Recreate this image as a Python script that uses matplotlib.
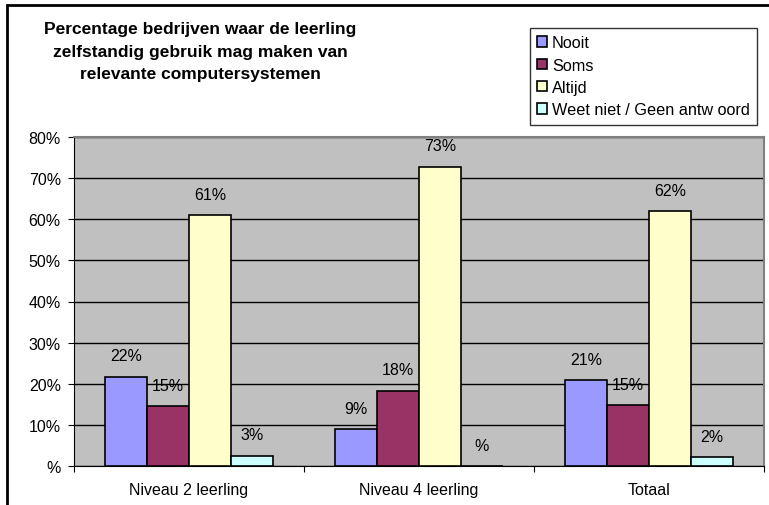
import matplotlib.pyplot as plt
import numpy as np
from matplotlib.patches import Rectangle

plt.rcParams['font.family'] = ['Liberation Sans', 'DejaVu Sans']

categories = ["Niveau 2 leerling", "Niveau 4 leerling", "Totaal"]
series = ["Nooit", "Soms", "Altijd", "Weet niet / Geen antw oord"]
colors = ["#9999FF", "#993366", "#FFFFCC", "#CCFFFF"]
# bar heights (%), per series across categories
nooit = [21.7, 9.0, 20.8]
soms = [14.5, 18.3, 14.8]
altijd = [61.0, 72.8, 62.0]
weet_niet = [2.5, 0.0, 2.2]
# printed labels
nooit_lbl = [22, 9, 21]
soms_lbl = [15, 18, 15]
altijd_lbl = [61, 73, 62]
weet_niet_lbl = [3, None, 2]
yticks = [0, 10, 20, 30, 40, 50, 60, 70, 80]
title = "Percentage bedrijven waar de leerling\nzelfstandig gebruik mag maken van\nrelevante computersystemen"

W, H = 769, 506
fs = 11.5
fig = plt.figure(figsize=(W / 100, H / 100), dpi=100)
fig.patches.append(Rectangle((7 / W, -0.1), 1.2, 1.1 - 6 / H, transform=fig.transFigure,
                             fill=False, ec="black", lw=2, zorder=10))

ax = fig.add_axes([74 / W, (H - 467) / H, 690 / W, 329 / H])
ax.set_facecolor("#C0C0C0")
x = np.arange(len(categories))
bw = 0.1826
vals = [nooit, soms, altijd, weet_niet]
lbls = [nooit_lbl, soms_lbl, altijd_lbl, weet_niet_lbl]
for i, (name, v, lb, c) in enumerate(zip(series, vals, lbls, colors)):
    pos = x + (i - 1.5) * bw
    ax.bar(pos, v, width=bw, color=c, edgecolor="black", linewidth=1.2, label=name, zorder=3)
    for p, h, t in zip(pos, v, lb):
        s = f"{t}%" if t is not None else "%"
        ax.annotate(s, (p, h), xytext=(0, 15), textcoords="offset points",
                    ha="center", va="center", fontsize=fs, zorder=4)

ax.set_xlim(-0.5, 2.5)
ax.set_ylim(0, 80)
ax.set_yticks(yticks)
ax.set_yticklabels([f"{t}%" if t else "%" for t in yticks], fontsize=fs)
ax.yaxis.grid(True, color="black", lw=1, zorder=1)
ax.set_xticks([-0.5, 0.5, 1.5, 2.5])
ax.set_xticklabels([])
ax.set_xticks(x, minor=True)
ax.set_xticklabels(categories, minor=True, fontsize=fs)
ax.tick_params(axis="x", which="minor", length=0, pad=11.5)
ax.tick_params(axis="x", which="major", length=4, direction="out")
ax.tick_params(axis="y", length=4.5, direction="out", pad=5)
for side in ["top", "right"]:
    ax.spines[side].set_color("#808080")
    ax.spines[side].set_linewidth(1.5)
ax.spines["left"].set_color("black")
ax.spines["bottom"].set_color("black")

fig.text(200 / W, 1 - 52 / H, title, ha="center", va="center", fontsize=12.5,
         fontweight="bold", linespacing=1.65)

leg = ax.legend(loc="upper left", bbox_to_anchor=(530 / W, 1 - 29 / H),
                bbox_transform=fig.transFigure, fontsize=11.7, frameon=True, fancybox=False,
                edgecolor="black", handlelength=0.6, handleheight=0.6, handletextpad=0.3,
                borderpad=0.45, labelspacing=0.45, borderaxespad=0)
leg.get_frame().set_linewidth(1)

fig.savefig("out.png", dpi=100)
